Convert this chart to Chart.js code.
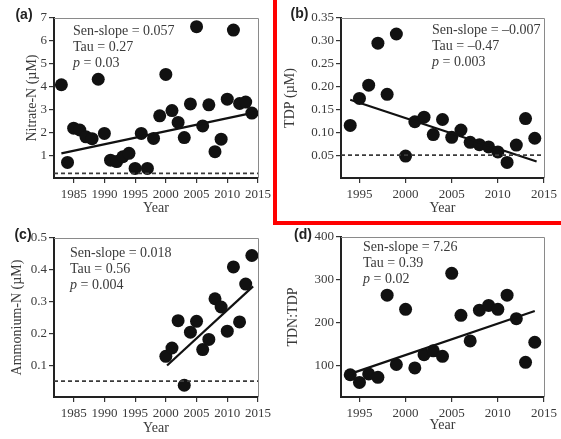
<!DOCTYPE html>
<html>
<head>
<meta charset="utf-8">
<script src="https://cdn.jsdelivr.net/npm/chart.js@4.4.1/dist/chart.umd.min.js"></script>
<style>
  html, body { margin: 0; padding: 0; background: #fff; }
  body { width: 561px; height: 439px; position: relative; overflow: hidden; }
  canvas { position: absolute; }
  #frame { position: absolute; left: 273px; top: -6px; width: 300px; height: 231px;
           box-sizing: border-box; border: 4px solid #f00; pointer-events: none; }
</style>
</head>
<body>
<canvas id="chartA" width="275" height="220" style="left:0;top:0"></canvas>
<canvas id="chartB" width="286" height="220" style="left:275px;top:0"></canvas>
<canvas id="chartC" width="275" height="219" style="left:0;top:220px"></canvas>
<canvas id="chartD" width="286" height="219" style="left:275px;top:220px"></canvas>
<div id="frame"></div>
<script>
// ---- data ----
const yearsA   = [1983,1984,1985,1986,1987,1988,1989,1990,1991,1992,1993,1994,1995,1996,1997,1998,
                  1999,2000,2001,2002,2003,2004,2005,2006,2007,2008,2009,2010,2011,2012,2013,2014];
const nitrate  = [4.08,0.68,2.18,2.1,1.8,1.72,4.32,1.95,0.78,0.72,0.93,1.08,0.42,1.95,0.42,1.73,
                  2.72,4.53,2.95,2.43,1.77,3.24,6.62,2.28,3.2,1.15,1.7,3.45,6.47,3.26,3.32,2.84];
const trendA   = [[1983, 1.08], [2014.5, 2.87]];
const nitrateLimit = 0.2;

const yearsB   = [1994,1995,1996,1997,1998,1999,2000,2001,2002,2003,2004,2005,2006,2007,2008,2009,
                  2010,2011,2012,2013,2014];
const tdp      = [0.115,0.174,0.203,0.295,0.183,0.315,0.048,0.123,0.133,0.095,0.128,0.089,0.105,
                  0.078,0.073,0.068,0.057,0.034,0.072,0.13,0.087];
const trendB   = [[1994, 0.171], [2014.2, 0.036]];
const tdpLimit = 0.05;

const yearsC   = [2000,2001,2002,2003,2004,2005,2006,2007,2008,2009,2010,2011,2012,2013,2014];
const ammonium = [0.128,0.154,0.24,0.037,0.204,0.238,0.149,0.181,0.309,0.283,0.207,0.409,0.236,0.355,0.445];
const trendC   = [[2000.2, 0.099], [2014.2, 0.348]];
const ammoniumLimit = 0.05;

const yearsD   = [1994,1995,1996,1997,1998,1999,2000,2001,2002,2003,2004,2005,2006,2007,2008,2009,
                  2010,2011,2012,2013,2014];
const tdnTdp   = [78,60,80,72,264,102,231,94,125,134,121,315,217,157,229,240,231,264,209,107,154];
const trendD   = [[1994, 80], [2014, 227]];

const yearTicksLong  = [1985,1990,1995,2000,2005,2010,2015];
const yearTicksShort = [1995,2000,2005,2010,2015];
const nitrateTicks   = [1,2,3,4,5,6,7];
const tdpTicks       = [0.05,0.10,0.15,0.20,0.25,0.30,0.35];
const ammoniumTicks  = [0.1,0.2,0.3,0.4,0.5];
const ratioTicks     = [100,200,300,400];

const statsA = ['0.057', '0.27', '0.03'];
const statsB = ['\u20130.007', '\u20130.47', '0.003'];
const statsC = ['0.018', '0.56', '0.004'];
const statsD = ['7.26', '0.39', '0.02'];

Chart.defaults.font.family = '"Liberation Serif", "Times New Roman", serif';
Chart.defaults.font.size = 13;
Chart.defaults.color = '#3a3a3a';

const toXY = (xs, ys) => xs.map((x, i) => ({ x, y: ys[i] }));
const pairs = p => p.map(([x, y]) => ({ x, y }));

// top/right frame, panel letter and the Sen-slope block
const panelDecor = {
  id: 'panelDecor',
  afterDatasetsDraw(chart, args, o) {
    const { ctx, chartArea: a } = chart;
    ctx.save();
    ctx.strokeStyle = '#8a8a8a';
    ctx.lineWidth = 1;
    ctx.beginPath();
    ctx.moveTo(a.left, a.top + 0.5);
    ctx.lineTo(a.right + 0.5, a.top + 0.5);
    ctx.lineTo(a.right + 0.5, a.bottom);
    ctx.stroke();

    ctx.fillStyle = '#222';
    ctx.textBaseline = 'middle';
    ctx.textAlign = 'center';
    ctx.font = 'bold 14px "Liberation Sans", Arial, sans-serif';
    ctx.fillText(o.letter, o.letterX, o.letterY);

    const serif = '"Liberation Serif", "Times New Roman", serif';
    const [slope, tau, p] = o.stats;
    ctx.textAlign = 'left';
    ctx.fillStyle = '#3a3a3a';
    ctx.font = '14px ' + serif;
    ctx.fillText('Sen-slope = ' + slope, o.textX, o.textY);
    ctx.fillText('Tau = ' + tau, o.textX, o.textY + 16);
    ctx.font = 'italic 14px ' + serif;
    ctx.fillText('p', o.textX, o.textY + 32);
    const w = ctx.measureText('p').width;
    ctx.font = '14px ' + serif;
    ctx.fillText(' = ' + p, o.textX + w, o.textY + 32);
    ctx.restore();
  }
};

function makePanel(id, c) {
  const datasets = [];
  if (c.limit !== undefined) {
    datasets.push({
      data: [{ x: c.xMin, y: c.limit }, { x: c.xMax, y: c.limit }],
      showLine: true, borderColor: '#3a3a3a', borderWidth: 1.8, borderDash: [4, 3], pointRadius: 0
    });
  }
  datasets.push({
    data: pairs(c.trend),
    showLine: true, borderColor: '#111', borderWidth: 2.2, pointRadius: 0
  });
  datasets.push({
    data: c.points,
    pointRadius: 6.5, pointHoverRadius: 6.5, backgroundColor: '#111', borderWidth: 0
  });

  const axisGrid = { display: true, drawOnChartArea: false, drawTicks: true, tickLength: 5, color: '#333', lineWidth: 1.2 };
  const axisBorder = { display: true, color: '#222', width: 2 };

  new Chart(document.getElementById(id), {
    type: 'scatter',
    data: { datasets },
    options: {
      responsive: false,
      animation: false,
      events: [],
      layout: { padding: { top: c.padTop, right: c.padRight, left: 0, bottom: 0 } },
      plugins: {
        legend: { display: false },
        tooltip: { enabled: false },
        panelDecor: c.decor
      },
      scales: {
        x: {
          type: 'linear', min: c.xMin, max: c.xMax,
          afterBuildTicks: s => { s.ticks = c.xTicks.map(v => ({ value: v })); },
          afterFit: s => { s.height = c.xAxisH; },
          ticks: { autoSkip: false, maxRotation: 0, padding: 4, callback: v => String(v) },
          grid: axisGrid, border: axisBorder,
          title: { display: true, text: 'Year', font: { size: 14 }, padding: { top: 0, bottom: c.xTitlePad } }
        },
        y: {
          type: 'linear', min: c.yMin, max: c.yMax,
          afterBuildTicks: s => { s.ticks = c.yTicks.map(v => ({ value: v })); },
          afterFit: s => { s.width = c.yAxisW; },
          ticks: { padding: 2, callback: c.yFmt },
          grid: axisGrid, border: axisBorder,
          title: { display: true, text: c.yTitle, font: { size: 14 }, padding: { top: c.yTitlePad, bottom: 0 } }
        }
      }
    },
    plugins: [panelDecor]
  });
}

makePanel('chartA', {
  points: toXY(yearsA, nitrate), trend: trendA, limit: nitrateLimit,
  xMin: 1981.8, xMax: 2015, xTicks: yearTicksLong,
  yMin: 0, yMax: 7, yTicks: nitrateTicks, yFmt: v => String(v),
  yTitle: 'Nitrate-N (\u00b5M)',
  padTop: 18, padRight: 15, yAxisW: 54, xAxisH: 42, yTitlePad: 23.6, xTitlePad: 3.6,
  decor: { letter: '(a)', letterX: 24, letterY: 15, stats: statsA, textX: 73, textY: 31 }
});

makePanel('chartB', {
  points: toXY(yearsB, tdp), trend: trendB, limit: tdpLimit,
  xMin: 1993, xMax: 2015, xTicks: yearTicksShort,
  yMin: 0, yMax: 0.35, yTicks: tdpTicks, yFmt: v => v.toFixed(2),
  yTitle: 'TDP (\u00b5M)',
  padTop: 18, padRight: 16, yAxisW: 66, xAxisH: 42, yTitlePad: 6.6, xTitlePad: 3.6,
  decor: { letter: '(b)', letterX: 24.5, letterY: 14, stats: statsB, textX: 157, textY: 30 }
});

makePanel('chartC', {
  points: toXY(yearsC, ammonium), trend: trendC, limit: ammoniumLimit,
  xMin: 1981.8, xMax: 2015, xTicks: yearTicksLong,
  yMin: 0, yMax: 0.5, yTicks: ammoniumTicks, yFmt: v => v.toFixed(1),
  yTitle: 'Ammonium-N (\u00b5M)',
  padTop: 18, padRight: 15, yAxisW: 54, xAxisH: 42, yTitlePad: 8.6, xTitlePad: 2.6,
  decor: { letter: '(c)', letterX: 23, letterY: 15, stats: statsC, textX: 70, textY: 33 }
});

makePanel('chartD', {
  points: toXY(yearsD, tdnTdp), trend: trendD,
  xMin: 1993, xMax: 2015, xTicks: yearTicksShort,
  yMin: 26, yMax: 400, yTicks: ratioTicks, yFmt: v => String(v),
  yTitle: 'TDN:TDP',
  padTop: 17, padRight: 16, yAxisW: 66, xAxisH: 42, yTitlePad: 9.6, xTitlePad: 5.6,
  decor: { letter: '(d)', letterX: 28, letterY: 15, stats: statsD, textX: 88, textY: 27 }
});
</script>
</body>
</html>
